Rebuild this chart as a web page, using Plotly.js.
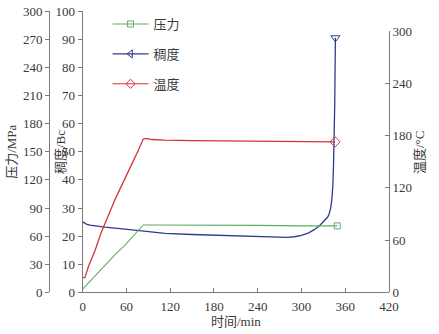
<!DOCTYPE html>
<html>
<head>
<meta charset="utf-8">
<script src="https://cdn.plot.ly/plotly-3.0.1.min.js"></script>
<style>html,body{margin:0;padding:0;background:#fff;}#chart{width:439px;height:334px;}</style>
</head>
<body>
<div id="chart"></div>
<script>
// 压力 (MPa) vs 时间 (min)
const time_pressure = [0, 10, 20, 35, 45, 58, 68, 76, 80, 83, 90, 120, 180, 240, 300, 349];
const pressure      = [3.5, 12, 20.5, 33.5, 41, 50.5, 59, 66, 70, 72, 72, 72, 71.5, 71.5, 71, 71];

// 稠度 (Bc) vs 时间 (min)
const time_consistency = [0, 5, 10, 17, 30, 58, 80, 113, 150, 180, 210, 240, 265, 280, 290, 300, 310, 318, 325, 331, 336, 338, 340, 341.5, 343, 344, 345, 345.6, 346.5];
const consistency      = [25.1, 24.3, 23.9, 23.6, 23.2, 22.5, 21.8, 21.0, 20.6, 20.4, 20.1, 19.8, 19.6, 19.6, 19.8, 20.3, 21.2, 22.4, 23.8, 25.4, 26.8, 28, 30, 32.7, 38, 46, 56, 67, 90.5];

// 温度 (°C) vs 时间 (min)
const time_temperature = [0, 3, 8, 16.8, 25, 35, 45, 57.9, 68, 76.1, 83, 87.5, 95, 112.6, 150, 200, 250, 300, 346];
const temperature      = [17, 17, 30, 47.9, 68, 88, 108, 130.6, 148, 163, 176, 176.8, 175.5, 174.8, 174.2, 173.8, 173.4, 173, 172.8];

const seriesNames = ['压力', '稠度', '温度'];
const xTitle = '时间/min';
const yTitles = ['压力/MPa', '稠度/Bc', '温度/°C'];

const cGreen = '#62ad62', cBlue = '#2f3c8e', cRed = '#d5323a';
const FONT = 'Liberation Serif, Noto Sans CJK SC, serif';
const last = a => a[a.length - 1];

const traces = [
  // lines
  {x: time_pressure, y: pressure, xaxis: 'x', yaxis: 'y2', mode: 'lines', line: {color: cGreen, width: 1.1}, showlegend: false, hoverinfo: 'skip'},
  {x: time_consistency, y: consistency, xaxis: 'x', yaxis: 'y', mode: 'lines', line: {color: cBlue, width: 1.3}, showlegend: false, hoverinfo: 'skip'},
  {x: time_temperature, y: temperature, xaxis: 'x', yaxis: 'y3', mode: 'lines', line: {color: cRed, width: 1.3}, showlegend: false, hoverinfo: 'skip'},
  // end markers
  {x: [last(time_pressure)], y: [last(pressure)], xaxis: 'x', yaxis: 'y2', mode: 'markers', marker: {symbol: 'square-open', size: 6, color: cGreen, line: {width: 1}}, showlegend: false},
  {x: [last(time_consistency)], y: [last(consistency)], xaxis: 'x', yaxis: 'y', mode: 'markers', marker: {symbol: 'triangle-down-open', size: 8, color: cBlue, line: {width: 1}}, showlegend: false},
  {x: [last(time_temperature)], y: [last(temperature)], xaxis: 'x', yaxis: 'y3', mode: 'markers', marker: {symbol: 'diamond-open', size: 8, color: cRed, line: {width: 1}}, showlegend: false},
  // legend entries (no visible data)
  {x: [null], y: [null], xaxis: 'x', yaxis: 'y', name: seriesNames[0], legendgroup: 'a', mode: 'lines+markers', line: {color: cGreen, width: 1.1}, marker: {symbol: 'square-open', size: 6, color: cGreen}},
  {x: [null], y: [null], xaxis: 'x', yaxis: 'y', name: seriesNames[1], legendgroup: 'b', mode: 'lines+markers', line: {color: cBlue, width: 1.1}, marker: {symbol: 'triangle-left-open', size: 7, color: cBlue}},
  {x: [null], y: [null], xaxis: 'x', yaxis: 'y', name: seriesNames[2], legendgroup: 'c', mode: 'lines+markers', line: {color: cRed, width: 1.1}, marker: {symbol: 'diamond-open', size: 7, color: cRed}}
];

const axisCommon = {
  showline: true, linecolor: '#7a7a7a', linewidth: 1,
  tickcolor: '#7a7a7a', ticklen: 4, tickwidth: 1,
  showgrid: false, zeroline: false,
  tickfont: {family: FONT, size: 13, color: '#3a3a3a'},
  fixedrange: true
};

const layout = {
  width: 439, height: 334,
  margin: {l: 0, r: 0, t: 0, b: 0},
  paper_bgcolor: '#ffffff',
  plot_bgcolor: 'rgba(0,0,0,0)',
  font: {family: FONT, size: 13, color: '#3a3a3a'},
  xaxis: Object.assign({}, axisCommon, {
    domain: [0.1884, 0.8861], range: [0, 420], tick0: 0, dtick: 60,
    ticks: 'inside', anchor: 'y', ticklabelstandoff: 2,
    title: {text: xTitle, standoff: 3, font: {family: FONT, size: 13, color: '#3a3a3a'}}
  }),
  yaxis: Object.assign({}, axisCommon, {
    domain: [0.1243, 0.967], range: [0, 100], tick0: 0, dtick: 10,
    ticks: 'outside', anchor: 'x', side: 'left'
  }),
  yaxis2: Object.assign({}, axisCommon, {
    overlaying: 'y', anchor: 'free', position: 0.1116, side: 'left',
    range: [0, 300], tick0: 0, dtick: 30, ticks: 'outside',
    title: {text: yTitles[0], standoff: 2, font: {family: FONT, size: 13, color: '#3a3a3a'}}
  }),
  yaxis3: Object.assign({}, axisCommon, {
    domain: [0.1243, 0.9072], anchor: 'x', side: 'right',
    range: [0, 300], tick0: 0, dtick: 60, ticks: 'inside'
  }),
  legend: {
    x: 0.245, y: 0.973, xanchor: 'left', yanchor: 'top',
    bgcolor: 'rgba(0,0,0,0)', borderwidth: 0,
    traceorder: 'grouped', tracegroupgap: 10, itemwidth: 36,
    font: {family: FONT, size: 13, color: '#3a3a3a'}
  },
  annotations: [
    {xref: 'paper', yref: 'paper', x: 60 / 439, y: 1 - 152 / 334, text: yTitles[1], textangle: -90, showarrow: false,
     xanchor: 'center', yanchor: 'middle', font: {family: FONT, size: 13, color: '#3a3a3a'}},
    {xref: 'paper', yref: 'paper', x: 419 / 439, y: 1 - 153 / 334, text: yTitles[2], textangle: -90, showarrow: false,
     xanchor: 'center', yanchor: 'middle', font: {family: FONT, size: 13, color: '#3a3a3a'}}
  ],
  showlegend: true
};

Plotly.newPlot('chart', traces, layout, {staticPlot: true, displayModeBar: false});
</script>
</body>
</html>
